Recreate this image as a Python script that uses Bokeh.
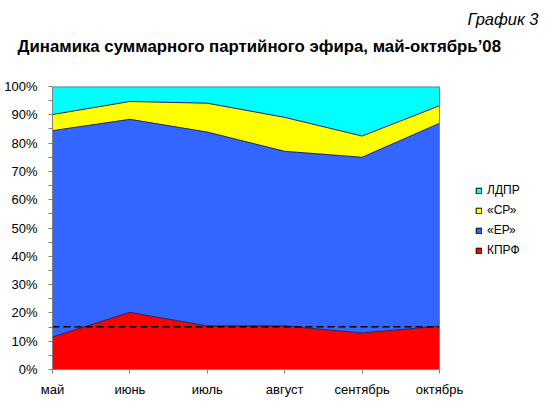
import numpy as np
from bokeh.plotting import figure
from bokeh.models import FixedTicker, Legend, LegendItem, Range1d, Title
from bokeh.embed import file_html
from bokeh.resources import INLINE

months = ["май", "июнь", "июль", "август", "сентябрь", "октябрь"]
kprf = [11.5, 20.2, 15.4, 15.4, 12.9, 15.3]
er = [72.9, 68.2, 68.5, 61.7, 62.1, 71.7]
sr = [5.7, 6.3, 10.2, 12.0, 7.5, 6.2]
ldpr = [9.9, 5.3, 5.9, 10.9, 17.5, 6.8]
y_ticks = [0, 10, 20, 30, 40, 50, 60, 70, 80, 90, 100]
y_minor = [5, 15, 25, 35, 45, 55, 65, 75, 85, 95]

series = [("КПРФ", kprf, "#FF0000"), ("«ЕР»", er, "#3366FF"),
          ("«СР»", sr, "#FFFF00"), ("ЛДПР", ldpr, "#00FFFF")]

FONT = "Liberation Sans"
GRAY = "#808080"
x = list(range(len(months)))
last = x[-1]

W, H = 548, 408
LEFT, TOP, BOTTOM = 52, 86, 39
PLOT_W = 387  # pixel width of the data area; the frame extends further right to hold the legend
frame_w = W - LEFT
x_end = last * frame_w / PLOT_W

p = figure(width=W, height=H, output_backend="svg", toolbar_location=None,
           x_range=Range1d(0, x_end), y_range=Range1d(0, 100),
           min_border_left=LEFT, min_border_right=0, min_border_top=TOP, min_border_bottom=BOTTOM)
p.background_fill_color = "white"
p.border_fill_color = "white"
p.outline_line_color = None
p.xgrid.visible = False
p.ygrid.visible = False

base = np.zeros(len(months))
tops = []
for name, vals, col in series:
    top = base + np.array(vals)
    p.varea(x=x, y1=list(base), y2=list(top), fill_color=col)
    tops.append(top)
    base = top
for top in tops[:-1]:
    p.line(x=x, y=list(top), line_color="#202060", line_width=1)

avg = float(np.mean(kprf))
p.line(x=[x[0], last], y=[avg, avg], line_color="black", line_width=1.5, line_dash="7 4")

# plot-area border (top and right)
p.segment(x0=[0, last], y0=[100, 0], x1=[last, last], y1=[100, 100],
          line_color=GRAY, line_width=[2, 1])

# legend (swatches with black outline; glyphs themselves hold no drawable point)
items = []
for name, vals, col in reversed(series):
    rr = p.rect(x=[np.nan], y=[np.nan], width=1, height=1, fill_color=col,
                line_color="black", line_width=1)
    items.append(LegendItem(label=name, renderers=[rr]))
legend = Legend(items=items, location=(423, 109), glyph_width=7, glyph_height=7,
                label_height=20, spacing=0, padding=0, margin=0, label_standoff=5,
                border_line_color=None, background_fill_alpha=0,
                label_text_font=FONT, label_text_font_size="12px", label_text_color="black")
p.add_layout(legend, "center")

# axes
p.xaxis.ticker = FixedTicker(ticks=x)
p.xaxis.major_label_overrides = {i: m for i, m in enumerate(months)}
p.xaxis.bounds = (0, last)
p.yaxis.ticker = FixedTicker(ticks=y_ticks, minor_ticks=y_minor)
p.yaxis.major_label_overrides = {t: f"{t}%" for t in y_ticks}
for ax in (p.xaxis, p.yaxis):
    ax.axis_line_color = GRAY
    ax.major_tick_line_color = GRAY
    ax.minor_tick_line_color = GRAY
    ax.major_tick_in = 0
    ax.major_tick_out = 4
    ax.minor_tick_in = 0
    ax.minor_tick_out = 4
    ax.major_label_text_font = FONT
    ax.major_label_text_font_size = "13px"
    ax.major_label_text_color = "black"
p.xaxis.minor_tick_line_color = None
p.yaxis.major_label_standoff = 11
p.xaxis.major_label_standoff = 8

# titles: outermost "График 3", then main title, then a spacer next to the plot
p.title = Title(text="График 3", text_font=FONT, text_font_size="16.5px",
                text_font_style="italic", align="right", offset=10, standoff=14,
                text_color="black")
p.add_layout(Title(text=" ", text_font=FONT, text_font_size="1px", standoff=28), "above")
p.add_layout(Title(text="Динамика суммарного партийного эфира, май-октябрь’08",
                   text_font=FONT, text_font_size="16.8px", text_font_style="bold",
                   align="left", offset=-35, standoff=0, text_color="black"), "above")

open("out.html", "w").write(file_html(p, INLINE))
